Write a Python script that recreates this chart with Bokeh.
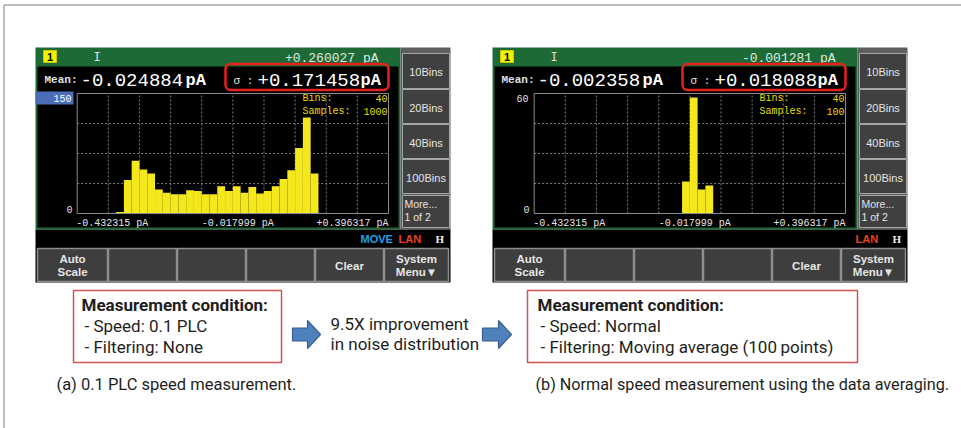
from bokeh.plotting import figure
from bokeh.models import Range1d
from bokeh.core.properties import value
from bokeh.embed import file_html
from bokeh.resources import INLINE

# ---------------- data ----------------
x_min, x_max = -0.432315, 0.396317
x_tick_values = [-0.432315, -0.017999, 0.396317]
x_tick_labels = ["-0.432315 pA", "-0.017999 pA", "+0.396317 pA"]
n_bins = 40

a_counts = [0, 0, 0, 0, 0, 2, 42, 66, 55, 50,
            30, 26, 24, 24, 29, 28, 24, 24, 34, 28,
            34, 26, 33, 25, 28, 34, 43, 54, 82, 120,
            50, 0, 0, 0, 0, 0, 0, 0, 0, 0]
a_ymax = 150
a_header = "+0.260027 pA"
a_mean = "-0.024884"
a_sigma = "+0.171458"
a_bins = "40"
a_samples = "1000"
a_status = ["MOVE", "LAN", "H"]

b_counts = [0, 0, 0, 0, 0, 0, 0, 0, 0, 0,
            0, 0, 0, 0, 0, 0, 0, 0, 0, 16,
            58, 12, 14, 0, 0, 0, 0, 0, 0, 0,
            0, 0, 0, 0, 0, 0, 0, 0, 0, 0]
b_ymax = 60
b_header = "-0.001281 pA"
b_mean = "-0.002358"
b_sigma = "+0.018088"
b_bins = "40"
b_samples = "100"
b_status = ["LAN", "H"]

side_buttons = [["10Bins"], ["20Bins"], ["40Bins"], ["100Bins"], ["More...", "1 of 2"]]
bottom_buttons = [["Auto", "Scale"], [], [], [], ["Clear"], ["System", "Menu\u25BC"]]

a_condition = ["Measurement condition:", "- Speed: 0.1 PLC", "- Filtering: None"]
b_condition = ["Measurement condition:", "- Speed: Normal", "- Filtering:  Moving average (100\u2009points)"]
improvement = ["9.5X improvement", "in noise distribution"]
a_caption = "(a) 0.1 PLC speed measurement."
b_caption = "(b) Normal speed measurement using the data averaging."

# ---------------- styles ----------------
GREEN = "#1d6a36"
YELLOW_BAR = "#f4e81c"
MONO = "Liberation Mono"
SANS = "Liberation Sans"
BODY = "Roboto"

W, H = 961, 428
p = figure(width=W, height=H, x_range=Range1d(0, W), y_range=Range1d(H, 0),
           output_backend="svg", toolbar_location=None, min_border=0,
           x_axis_location=None, y_axis_location=None)
p.outline_line_color = None
p.background_fill_color = "white"
p.border_fill_color = "white"
for g in p.grid:
    g.visible = False


def T(x, y, s, size, color, font=SANS, align="left", baseline="middle", style="normal",
      xr="default", yr="default", xo=0, yo=0):
    p.text(x=[x], y=[y], text=[s], text_font=value(font), text_font_size=f"{size}px",
           text_color=color, text_align=align, text_baseline=baseline,
           text_font_style=style, x_range_name=xr, y_range_name=yr,
           x_offset=xo, y_offset=yo)


def box(l, r, t, b, fill, line=None, lw=1, **kw):
    p.quad(left=[l], right=[r], top=[t], bottom=[b], fill_color=fill,
           line_color=line, line_width=lw, **kw)


# outer frame lines of the figure panel
p.segment(x0=[3.5, 3.5], y0=[4.5, 4.5], x1=[W, 3.5], y1=[4.5, H],
          line_color="#a8a8a8", line_width=1.5)


def draw_screen(ox, key, counts, ymax, boxed, header, mean, sigma, bins, samples, status):
    oy = 47
    # frame / background
    box(ox, ox + 365, oy, 229, GREEN)
    box(ox + 2, ox + 363, 66, 227, "black")
    box(ox + 365, ox + 415, oy, 229, "#5e5e5e")
    box(ox, ox + 415, 229, 282, "black")

    # header
    box(ox + 8, ox + 21, 50, 62, "#f2f200", "#c8c800")
    T(ox + 14.5, 56.5, "1", 11, "black", SANS, "center", style="bold")
    T(ox + 58, 57, "I", 12, "#e8e8e8", MONO)
    T(ox + 343, 57.5, header, 13, "#dfeadf", MONO, "right")

    # mean / sigma row
    T(ox + 9, 79, "Mean:", 11, "#e0e0e0", MONO, style="bold")
    T(ox + 45, 79, mean, 19, "white", MONO)
    T(ox + 150, 79.5, "pA", 17, "white", MONO, style="bold")
    box(ox + 190, ox + 353, 63.5, 89.5, None, "#e8211d", 2.5, border_radius=5)
    T(ox + 198, 80, "\u03C3 :", 11, "#e0e0e0", MONO)
    T(ox + 222, 79, sigma, 19, "white", MONO)
    T(ox + 325, 79.5, "pA", 17, "white", MONO, style="bold")

    # histogram ranges mapped onto the on-screen plot frame
    px0, px1 = ox + 41.7, ox + 353.0
    py0, py1 = 213.0, 93.0
    sx = (x_max - x_min) / (px1 - px0)
    sy = ymax / (py0 - py1)
    p.extra_x_ranges[key] = Range1d(x_min + (0 - px0) * sx, x_min + (W - px0) * sx)
    p.extra_y_ranges[key] = Range1d((py0 - H) * sy, (py0 - 0) * sy)

    # grid
    vx = [x_min + k * (x_max - x_min) / 10 for k in range(1, 10)]
    p.segment(x0=vx, x1=vx, y0=[0] * 9, y1=[ymax] * 9, line_color="#7a7a7a",
              line_dash="2 2", line_width=1, x_range_name=key, y_range_name=key)
    hy = [ymax * k / 4 for k in range(1, 4)]
    p.segment(x0=[x_min] * 3, x1=[x_max] * 3, y0=hy, y1=hy, line_color="#7a7a7a",
              line_dash="2 2", line_width=1, x_range_name=key, y_range_name=key)

    # bars
    bw = (x_max - x_min) / n_bins
    lefts = [x_min + i * bw for i in range(n_bins)]
    rights = [x_min + (i + 1) * bw for i in range(n_bins)]
    p.quad(left=lefts, right=rights, bottom=[0] * n_bins, top=counts,
           fill_color=YELLOW_BAR, line_color=None, x_range_name=key, y_range_name=key)
    p.quad(left=[x_min], right=[x_max], bottom=[0], top=[ymax], fill_color=None,
           line_color="#8c8c8c", line_width=1, x_range_name=key, y_range_name=key)

    # y labels
    if boxed:
        box(ox, ox + 38, 91, 104, "#4a6fb8")
        T(ox + 36, 97.5, str(ymax), 10, "white", MONO, "right")
    else:
        T(ox + 36, 97.5, str(ymax), 10, "#e0e0e0", MONO, "right")
    T(ox + 37, 0, "0", 10, "#e0e0e0", MONO, "right", "bottom", xr="default", yr=key, yo=-1)

    # x tick labels
    aligns = ["left", "center", "right"]
    for v, lab, al in zip(x_tick_values, x_tick_labels, aligns):
        T(v, 0, lab, 10, "#e6e6e6", MONO, al, "middle", xr=key, yr=key,
          yo=10, xo=(-1 if al == "left" else (5 if al == "center" else 0)))

    # bins / samples
    T(ox + 267, 97.5, "Bins:", 10, "#e6dc00", MONO)
    T(ox + 352, 97.5, bins, 10, "#e6dc00", MONO, "right")
    T(ox + 267, 111, "Samples:", 10, "#e6dc00", MONO)
    T(ox + 352, 111, samples, 10, "#e6dc00", MONO, "right")

    # side buttons
    spans = [(53, 88), (89, 123), (124, 158), (159, 193), (195, 227)]
    for (t, b), lab in zip(spans, side_buttons):
        box(ox + 367, ox + 414, t, b, "#404040", "#a5a5a5", 1)
        if len(lab) == 1:
            T(ox + 390.5, (t + b) / 2 + 1, lab[0], 11, "#e4e4e4", SANS, "center")
        else:
            T(ox + 369, t + 8, lab[0], 10.5, "#e4e4e4", SANS)
            T(ox + 369, t + 21, lab[1], 10.5, "#e4e4e4", SANS)

    # status bar
    cols = {"MOVE": "#1ea3e8", "LAN": "#e8431c", "H": "#f0f0f0"}
    pos = {"MOVE": 325, "LAN": 363, "H": 400}
    for s in status:
        if s == "H":
            T(ox + pos[s], 238.5, s, 11, cols[s], "Liberation Serif", style="bold")
        else:
            T(ox + pos[s], 238.5, s, 11, cols[s], SANS, style="bold")

    # bottom buttons
    bx = [(2, 72), (73, 141), (142, 210), (211, 279), (280, 348), (349, 413)]
    for (l, r), lab in zip(bx, bottom_buttons):
        box(ox + l, ox + r, 248, 281, "#3e3e3e", "#8e8e8e", 1.5)
        c = ox + (l + r) / 2
        if len(lab) == 1:
            T(c, 265, lab[0], 11.5, "#e6e6e6", SANS, "center", style="bold")
        elif len(lab) == 2:
            T(c, 258.5, lab[0], 11.5, "#e6e6e6", SANS, "center", style="bold")
            T(c, 271, lab[1], 11.5, "#e6e6e6", SANS, "center", style="bold")


draw_screen(35, "ha", a_counts, a_ymax, True, a_header, a_mean, a_sigma, a_bins, a_samples, a_status)
draw_screen(492, "hb", b_counts, b_ymax, False, b_header, b_mean, b_sigma, b_bins, b_samples, b_status)

# ---------------- lower annotations ----------------
BOX_RED = "#cd5552"
TXT = "#1e1e1e"
box(73, 281, 290, 362, "white", BOX_RED, 1.5)
box(527, 857, 290, 362, "white", BOX_RED, 1.5)

for (x0, lines) in [(81, a_condition), (537, b_condition)]:
    T(x0, 304, lines[0], 17, TXT, BODY, style="bold")
    T(x0 + 3, 325, lines[1], 17, TXT, BODY)
    T(x0 + 3, 346, lines[2], 17, TXT, BODY)

T(330, 323, improvement[0], 17, TXT, BODY)
T(330, 343, improvement[1], 17, TXT, BODY)


def arrow(x0, x1, cy):
    xh = x1 - 13
    xs = [x0, xh, xh, x1, xh, xh, x0]
    ys = [cy - 6.5, cy - 6.5, cy - 14, cy, cy + 14, cy + 6.5, cy + 6.5]
    p.patch(xs, ys, fill_color="#4f81bd", line_color="#3a5f8e", line_width=1.2)


arrow(292, 320, 334)
arrow(482, 511, 334)

T(56, 384, a_caption, 16.5, TXT, BODY)
T(535, 384, b_caption, 16.2, TXT, BODY)

open("out.html", "w").write(file_html(p, INLINE))
